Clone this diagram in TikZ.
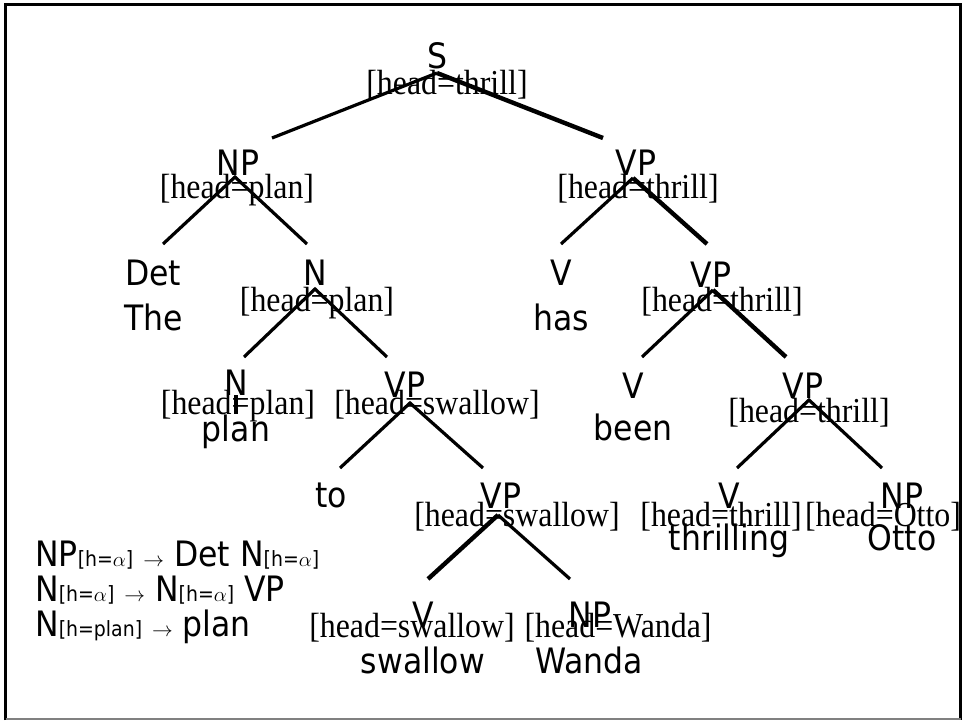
\documentclass[tikz,border=0pt]{standalone}
\usepackage{fontspec}
\setmainfont{DejaVu Sans}
\newfontfamily\catfont{DejaVu Sans}[FakeStretch=0.9]
\newfontfamily\featfont{Liberation Serif}[FakeStretch=0.91]
\newcommand\hsub[1]{{\fontsize{21}{23}\selectfont[h=#1]}}
\newcommand\rulearrow{{\fontsize{21}{23}\selectfont$\rightarrow$}}
\begin{document}
\begin{tikzpicture}[x=1pt,y=-1pt,
  cat/.style={anchor=base,inner sep=0pt,font=\catfont\fontsize{35}{38}\selectfont},
  feat/.style={anchor=base,inner sep=0pt,font=\featfont\fontsize{35}{38}\selectfont},
  rulebox/.style={anchor=base west,inner sep=0pt,font=\catfont\fontsize{35}{38}\selectfont},
  branch/.style={line width=3.2pt},
  heavy/.style={line width=4.4pt},
]
\useasboundingbox (0,0) rectangle (963,720);

% slide frame
\draw[line width=3pt] (5.5,720) -- (5.5,4) -- (960.5,4) -- (960.5,720);
\draw[gray,line width=1.5pt] (5.5,719) -- (960.5,719);

% branch points of the tree
\coordinate (sA) at (437,73);  \coordinate (sL) at (272,138); \coordinate (sR) at (603,138);
\coordinate (npA) at (235,177); \coordinate (npL) at (163,244); \coordinate (npR) at (307,244);
\coordinate (nA) at (315,289);  \coordinate (nL) at (244,357);  \coordinate (nR) at (387,357);
\coordinate (v1A) at (410,403); \coordinate (v1L) at (340,468); \coordinate (v1R) at (483,468);
\coordinate (v2A) at (498,515); \coordinate (v2L) at (428,579); \coordinate (v2R) at (570,579);
\coordinate (vaA) at (633,178); \coordinate (vaL) at (561,244); \coordinate (vaR) at (707,244);
\coordinate (vbA) at (713,290); \coordinate (vbL) at (642,357); \coordinate (vbR) at (786,357);
\coordinate (vcA) at (809,400); \coordinate (vcL) at (737,468); \coordinate (vcR) at (882,468);

% branches
\draw[branch] (sL) -- (sA);  \draw[heavy] (sA) -- (sR);
\draw[branch] (npL) -- (npA) -- (npR);
\draw[branch] (nL) -- (nA) -- (nR);
\draw[branch] (v1L) -- (v1A) -- (v1R);
\draw[heavy] (v2L) -- (v2A); \draw[branch] (v2A) -- (v2R);
\draw[branch] (vaL) -- (vaA); \draw[heavy] (vaA) -- (vaR);
\draw[branch] (vbL) -- (vbA); \draw[heavy] (vbA) -- (vbR);
\draw[branch] (vcL) -- (vcA) -- (vcR);

% categories, features and words
\node[cat] (s) at (437,68) {S};
\node[feat] (sf) at (447,94) {[head=thrill]};

\node[cat] (np) at (238,175) {NP};
\node[feat] (npf) at (237,198) {[head=plan]};
\node[cat] (det) at (153,285) {Det};
\node[cat] (the) at (154,330) {The};
\node[cat] (n) at (315,285) {N};
\node[feat] (nf) at (317,311) {[head=plan]};
\node[cat] (nleaf) at (236,395) {N};
\node[feat] (nleaff) at (238,414) {[head=plan]};
\node[cat] (plan) at (236,441) {plan};
\node[cat] (vp1) at (405,397) {VP};
\node[feat] (vp1f) at (437,414) {[head=swallow]};
\node[cat] (to) at (331,507) {to};
\node[cat] (vp2) at (501,508) {VP};
\node[feat] (vp2f) at (517,526) {[head=swallow]};
\node[cat] (vsw) at (423,627) {V};
\node[feat] (vswf) at (412,637) {[head=swallow]};
\node[cat] (swallow) at (423,673) {swallow};
\node[cat] (npw) at (590,627) {NP};
\node[feat] (npwf) at (618,637) {[head=Wanda]};
\node[cat] (wanda) at (589,673) {Wanda};

\node[cat] (vpa) at (636,175) {VP};
\node[feat] (vpaf) at (638,198) {[head=thrill]};
\node[cat] (vhas) at (561,285) {V};
\node[cat] (has) at (561,330) {has};
\node[cat] (vpb) at (711,287) {VP};
\node[feat] (vpbf) at (722,311) {[head=thrill]};
\node[cat] (vbeen) at (633,398) {V};
\node[cat] (been) at (633,440) {been};
\node[cat] (vpc) at (803,398) {VP};
\node[feat] (vpcf) at (809,422) {[head=thrill]};
\node[cat] (vthr) at (729,508) {V};
\node[feat] (vthrf) at (721,526) {[head=thrill]};
\node[cat] (thrilling) at (729,550) {thrilling};
\node[cat] (npo) at (902,508) {NP};
\node[feat] (npof) at (883,526) {[head=Otto]};
\node[cat] (otto) at (902,550) {Otto};

\draw[branch] (nleaf.base) -- (plan.north);

% feature-passing rules
\node[rulebox] (r1) at (35,566) {NP\hsub{$\alpha$} \rulearrow{} Det N\hsub{$\alpha$}};
\node[rulebox] (r2) at (35,601) {N\hsub{$\alpha$} \rulearrow{} N\hsub{$\alpha$} VP};
\node[rulebox] (r3) at (35,636) {N\hsub{plan} \rulearrow{} plan};
\end{tikzpicture}
\end{document}
